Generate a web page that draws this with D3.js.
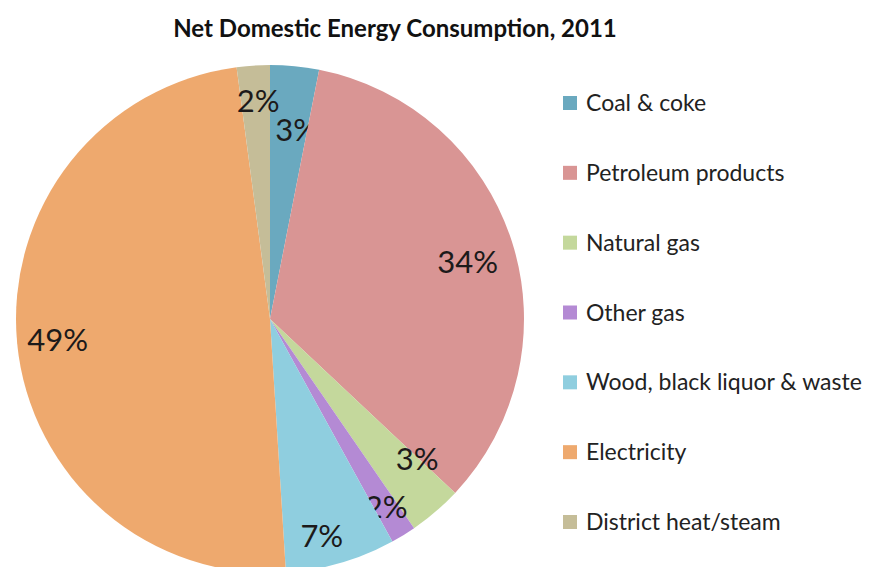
<!DOCTYPE html>
<html>
<head>
<meta charset="utf-8">
<script src="https://cdn.jsdelivr.net/npm/d3@7"></script>
<style>
	body { margin: 0; background: #fff; }
	svg { display: block; font-family: Lato, "Open Sans", sans-serif; }
</style>
</head>
<body>
<svg id="chart" width="872" height="567"></svg>
<script>
// chart data
var categories = ["Coal & coke", "Petroleum products", "Natural gas", "Other gas",
	"Wood, black liquor & waste", "Electricity", "District heat/steam"];
var shares = [3.1, 33.9, 3.4, 1.6, 7.0, 48.9, 2.1];
var labels = ["3%", "34%", "3%", "2%", "7%", "49%", "2%"];
var colors = ["#6aa9bf", "#d99594", "#c4d89c", "#b48ad4", "#8fcedf", "#eea96e", "#c5bd98"];

// "best fit" label placement: radius as fraction of pie radius, angle nudge in degrees
var labelRadius = [0.75, 0.81, 0.80, 0.87, 0.88, 0.84, 0.86];
var labelNudge = [2.5, 1.7, -5.7, 0, 2.8, 0, 0.7];

var width = 872, height = 567;
var cx = 270, cy = 319, radius = 254;

var svg = d3.select("#chart");

svg.append("text")
	.attr("x", 395)
	.attr("y", 37)
	.attr("text-anchor", "middle")
	.style("font-size", "24px")
	.style("font-weight", "bold")
	.style("fill", "#111")
	.text("Net Domestic Energy Consumption, 2011");

var data = categories.map(function(c, i) {
	return { name: c, value: shares[i], label: labels[i], color: colors[i], idx: i };
});

var pie = d3.pie()
	.sort(null)
	.value(function(d) { return d.value; });

var arc = d3.arc().innerRadius(0).outerRadius(radius);

function labelPos(d) {
	var i = d.data.idx;
	var r = radius * labelRadius[i];
	var a = (d.startAngle + d.endAngle) / 2 + labelNudge[i] * Math.PI / 180;
	return [Math.sin(a) * r, -Math.cos(a) * r];
}

var g = svg.append("g").attr("transform", "translate(" + cx + "," + cy + ")");

var slices = g.selectAll(".slice")
	.data(pie(data))
	.enter().append("g")
	.attr("class", "slice");

slices.append("path")
	.attr("d", arc)
	.style("fill", function(d) { return d.data.color; });

slices.append("text")
	.attr("transform", function(d) { return "translate(" + labelPos(d) + ")"; })
	.attr("text-anchor", "middle")
	.attr("dy", "0.35em")
	.style("font-size", "31px")
	.style("fill", "#1c1a1a")
	.text(function(d) { return d.data.label; });

// legend
var legendY = d3.scalePoint()
	.domain(categories)
	.range([103, 522]);

var legend = svg.selectAll(".legend")
	.data(data)
	.enter().append("g")
	.attr("class", "legend")
	.attr("transform", function(d) { return "translate(563," + legendY(d.name) + ")"; });

legend.append("rect")
	.attr("x", 0)
	.attr("y", -7)
	.attr("width", 14)
	.attr("height", 14)
	.style("fill", function(d) { return d.color; });

legend.append("text")
	.attr("x", 23)
	.attr("dy", "0.35em")
	.style("font-size", "23px")
	.style("fill", "#222")
	.text(function(d) { return d.name; });
</script>
</body>
</html>
